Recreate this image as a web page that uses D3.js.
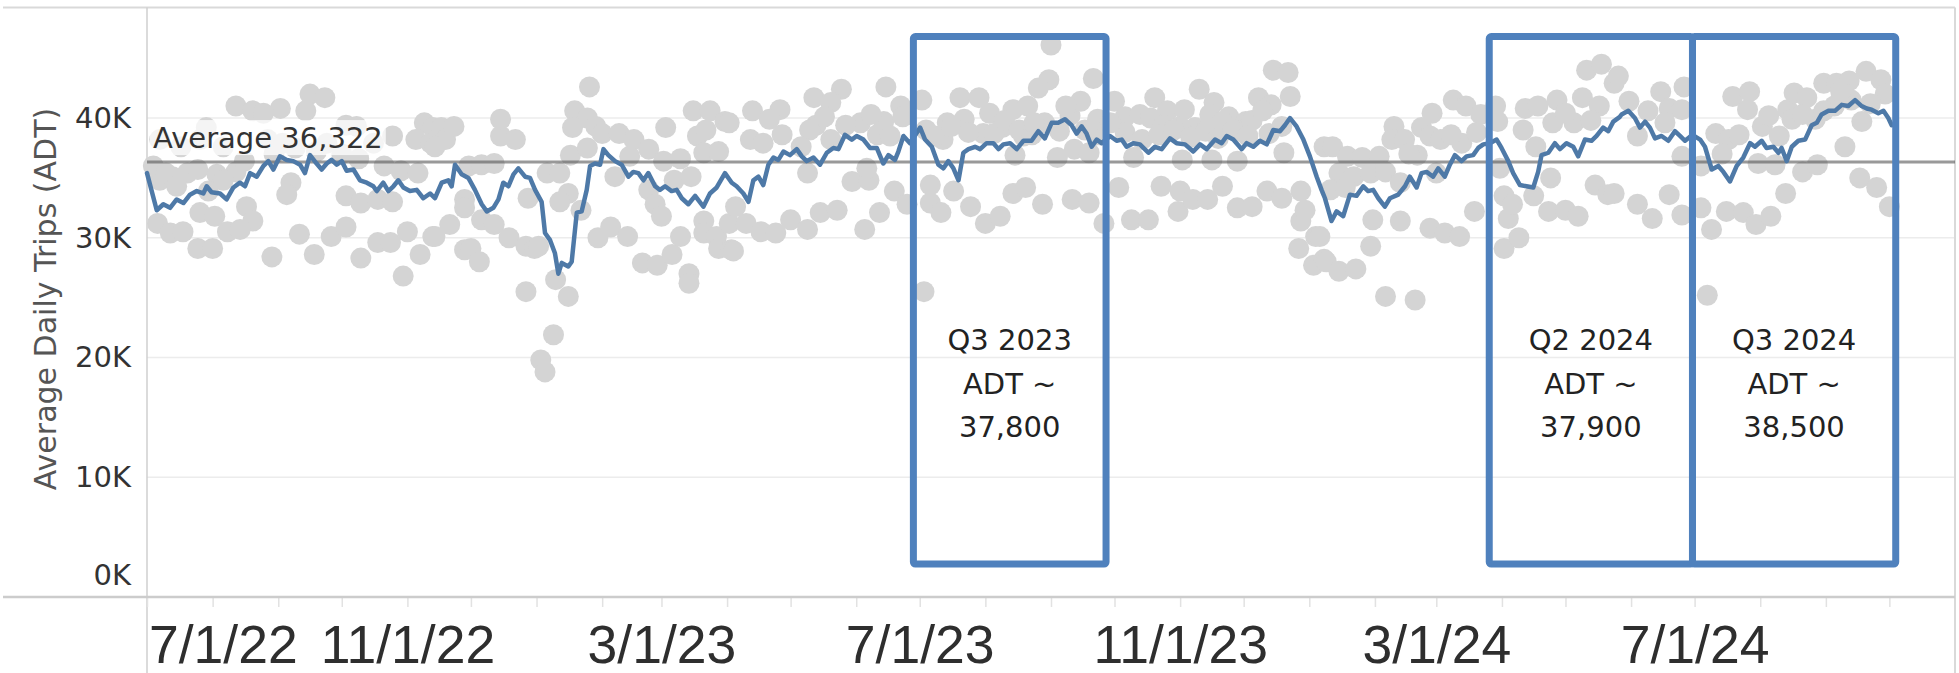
<!DOCTYPE html>
<html>
<head>
<meta charset="utf-8">
<script src="https://cdn.jsdelivr.net/npm/d3@7"></script>
<style>
  html, body { margin: 0; padding: 0; background: #fff; }
  svg { display: block; }
</style>
</head>
<body>
<svg id="chart" width="1959" height="673"></svg>
<script>
var START = "2022-07-01";
var END = "2024-11-01";

// daily points : [days since 7/1/22, ADT in thousands]
var dots2022 = [
  [77,42.0],[84,41.7],[42,41.0],[63,40.8],[75,40.6],[50,40.6],[55,40.4],[94,39.4],[99,39.3],[28,39.2],
  [116,38.5],[6,34.8],[12,35.1],[19,35.4],[3,36.0],[33,35.3],[42,35.5],[68,34.6],[66,33.6],[94,33.5],
  [101,32.9],[109,33.2],[116,33.0],[47,32.6],[25,32.1],[32,31.8],[50,31.4],[5,31.2],[11,30.4],[17,30.5],
  [38,30.5],[44,30.7],[72,30.3],[87,30.1],[94,30.9],[24,29.1],[31,29.1],[59,28.4],[79,28.6],[101,28.3],
  [109,29.6],[115,29.6],[123,30.5],[129,28.6],[135,30.1],[121,26.8],[131,39.6],[135,39.2],[127,38.2],[134,37.9],
  [9,35.4],[24,35.7],[36,34.8],[6,38.2],[16,37.6],[25,38.2],[36,37.6],[57,38.2],[64,37.9],[85,37.9],[107,37.9],
  [139,39.2],[141,38.2],[136,37.6],[145,39.3],[152,36.0],[158,36.1],[164,36.2],[167,38.5],[167,39.9],[174,38.2],
  [180,33.3],[150,33.2],[150,32.5],[143,31.1],[136,30.1],[158,31.5],[164,31.1],[171,30.0],[150,29.0],[153,29.1],
  [157,28.0],[179,29.3],[183,29.1],[179,25.5],
  [14,34.3],[29,33.9],[46,36.4],[60,37.0],[70,37.5],[80,37.2],[92,37.0],[100,36.6],[112,36.0],[120,35.6],[128,35.4]
];
var dots2023a = [
  [209,42.6],[202,40.6],[208,40.0],[201,39.2],[212,39.3],[215,38.7],[223,38.7],[230,38.2],[237,37.4],[245,39.2],
  [244,36.4],[258,40.6],[266,40.6],[273,39.7],[260,38.5],[264,39.0],[263,37.1],[200,36.9],[208,37.5],[189,35.4],
  [195,35.4],[199,33.7],[195,33.0],[221,35.1],[237,34.0],[240,32.8],[243,31.8],[249,34.8],[257,35.1],[185,29.3],
  [205,32.3],[213,30.0],[219,30.9],[227,30.1],[234,27.9],[241,27.7],[248,28.6],[252,30.1],[256,27.0],[256,26.2],
  [263,31.4],[263,30.4],[269,30.1],[270,29.1],[275,31.2],[276,29.0],[193,26.5],[199,25.1],[192,21.9],[186,19.8],
  [188,18.8],[349,42.6],[328,42.4],[315,41.7],[323,41.3],[286,40.6],[299,40.7],[294,39.9],[316,39.4],[320,40.1],
  [337,39.6],[348,39.7],[356,41.0],[357,40.1],[285,38.2],[291,37.9],[313,39.0],[309,37.6],[323,38.2],[345,38.6],
  [351,38.5],[275,39.6],[312,35.4],[333,34.7],[341,34.8],[340,35.8],[353,33.9],[359,32.8],[346,32.1],[318,32.1],
  [326,32.3],[304,31.5],[312,30.7],[283,31.2],[290,30.5],[297,30.4],[277,28.9],[278,32.6],[339,30.7],
  [228,36.8],[252,36.6],[270,37.2],[300,38.6],[330,39.4],[342,40.3]
];
var dots2023b = [
  [366,41.5],[370,34.4],[370,32.9],[375,32.1],[381,33.9],[389,32.6],[396,31.2],[403,31.8],[367,25.5],[384,41.7],
  [393,41.7],[378,39.6],[386,39.9],[398,40.4],[409,40.7],[376,38.2],[395,38.7],[404,39.2],[409,33.7],[415,34.2],
  [414,38.5],[410,36.9],[368,39.0],[372,38.5],[380,39.3],[388,38.8],[400,38.7],[405,39.8],[412,39.0],[418,38.6],
  [424,39.6],[431,38.9],[436,40.2],[443,39.0],[450,38.6],[427,46.1],[426,43.2],[421,42.5],[447,43.3],[441,41.4],
  [416,41.0],[457,41.4],[449,39.9],[419,39.6],[430,36.7],[438,37.4],[445,37.1],[462,40.1],[469,40.3],[476,41.7],
  [482,40.6],[490,40.7],[497,42.4],[495,39.2],[504,41.3],[511,40.1],[519,39.7],[525,41.7],[531,41.1],[532,44.0],
  [539,43.8],[540,41.8],[537,37.1],[466,36.7],[489,36.5],[503,36.5],[515,36.4],[423,32.8],[437,33.2],[445,32.9],
  [452,31.2],[459,34.2],[465,31.5],[473,31.5],[479,34.3],[488,33.9],[487,32.2],[494,33.2],[501,33.2],[508,34.3],
  [515,32.5],[522,32.6],[529,33.9],[536,33.3],[545,33.9],[545,31.4],[547,32.3],[474,40.0],[480,39.4],[488,39.3],
  [502,40.3],[508,39.7],[516,38.9],[522,39.8],[527,40.6],
  [462,38.8],[470,38.2],[478,38.6],[485,39.0],[493,38.4],[500,38.9],[506,38.3],[513,39.0],[520,38.5],[530,38.7],
  [536,39.3],[455,39.6],[434,41.0]
];
var dots2024a = [
  [552,30.1],[544,29.1],[551,27.7],[556,28.2],[556,37.6],[560,37.6],[567,36.8],[574,36.7],[582,36.8],[563,35.4],
  [570,35.1],[578,35.4],[585,35.5],[559,34.0],[589,39.3],[588,38.2],[594,38.2],[602,39.2],[607,40.4],[606,38.5],
  [611,38.2],[617,41.5],[623,41.0],[630,40.3],[621,37.9],[592,34.6],[600,36.9],[609,35.4],[554,30.1],[557,28.0],
  [563,27.2],[571,27.4],[579,31.5],[578,29.3],[592,31.4],[606,30.8],[613,30.4],[620,30.1],[627,32.2],[585,25.1],
  [599,24.8],[637,41.0],[638,39.7],[639,35.8],[641,33.5],[643,31.6],[645,32.8],[641,29.1],[648,30.0],[651,40.8],
  [657,41.0],[666,41.5],[678,41.7],[680,44.0],[687,44.5],[693,42.9],[650,39.0],[656,37.6],[663,35.0],[655,33.5],
  [662,32.2],[670,32.3],[676,31.8],[684,34.4],[690,33.6],[664,39.6],[674,39.6],[686,41.0],
  [566,34.2],[596,37.0],[616,38.6],[628,38.8],[670,40.4],[682,39.8]
];
var dots2024b = [
  [695,43.5],[715,42.2],[726,42.6],[700,41.4],[709,40.6],[719,40.8],[725,40.7],[704,38.5],[717,39.6],[725,36.8],
  [693,33.7],[704,32.8],[711,31.6],[719,33.6],[725,31.9],[734,32.5],[739,30.7],[746,32.2],[754,32.1],[760,31.1],
  [767,31.8],[774,33.7],[737,25.2],[749,41.8],[757,42.2],[756,40.7],[741,38.7],[747,38.2],[763,39.3],[771,38.5],
  [761,36.2],[734,36.0],[769,36.1],[782,35.5],[789,36.1],[775,40.7],[778,42.1],[784,41.7],[792,42.9],[798,42.9],
  [804,43.1],[812,43.9],[819,43.2],[810,39.7],[802,37.6],[809,35.0],[817,34.2],[823,32.6],[788,39.9],[797,41.0],
  [821,42.0],[777,39.9],[805,41.5],[814,41.2],[792,40.6],
  [744,37.0],[752,38.6],[766,40.2],[782,40.3],[800,42.2]
];

// rolling average line : [days since 7/1/22, ADT in thousands]
var trend2022 = [
  [0,35.4],[4.6,32.3],[7.7,32.8],[10.9,32.5],[14,33.2],[17.2,32.9],[20.3,33.6],[23.5,33.9],[26.6,33.7],[28.2,34.3],
  [30.5,33.8],[34.5,33.7],[37.6,33.2],[40.8,34.2],[43.9,34.6],[46.3,34.3],[48.7,35.4],[51.8,35.1],[55,36.0],[57.3,36.4],
  [59.7,35.7],[62.8,36.8],[66,36.5],[69.1,36.4],[72.3,36.1],[74.6,35.4],[77,36.9],[80.1,36.2],[82.5,35.7],[84.9,36.2],
  [87.2,36.5],[89.6,36.1],[92,36.4],[94.3,35.6],[97.5,35.7],[100.6,34.8],[103.8,34.6],[106.9,34.3],[108.5,33.9],[111.6,34.6],
  [114,33.9],[116.4,34.3],[118.7,34.8],[121.1,34.2],[124.2,33.9],[127.4,34.0],[130.5,33.3],[133.7,33.7],[136,33.3],[139.2,34.6],
  [142.3,34.8],[143.9,34.3],[145.5,36.1],[148.6,35.3],[151.8,35.0],[154.9,34.0],[158.1,32.8],[160.5,32.2],[163.6,32.5],[166,33.2],
  [168.3,34.6],[170.7,34.3],[173.1,35.3],[175.4,35.8],[178.6,35.1],[180.9,35.0],[183.3,34.0]
];
var trend2023a = [
  [186.4,33.0],[188,30.4],[190.4,29.8],[192.7,28.7],[194.3,27.0],[195.9,27.9],[199,27.6],[200.6,28.0],[203,32.1],[205.3,32.2],
  [207.7,34.0],[209.3,36.0],[211.6,36.2],[214,36.1],[215.6,37.4],[217.9,36.9],[221.1,36.4],[224.2,36.1],[227.4,35.1],[229.7,35.5],
  [232.1,35.4],[234.5,34.8],[236.8,35.4],[240,34.3],[242.3,34.0],[244.7,34.3],[247.8,33.9],[250.2,34.0],[252.6,33.3],[255.7,32.8],
  [258.9,33.5],[262.8,32.6],[265.9,33.7],[269.1,34.2],[273,35.4],[276.2,34.6],[278.5,34.3],[281.7,33.7],[284.1,33.0],[286.4,34.8],
  [288.8,35.1],[291.1,34.4],[293.5,36.1],[295.9,36.7],[298.2,36.5],[300.6,37.2],[303.7,36.9],[306.9,37.4],[309.3,36.8],[311.6,36.4],
  [314.8,36.7],[317.9,36.1],[321.1,37.1],[324.2,37.5],[326.6,37.4],[329.7,38.6],[332.9,38.2],[335.2,38.5],[338.4,38.2],[341.5,37.5],
  [344.7,37.5],[347.8,36.2],[350.2,36.9],[353.3,36.5],[354.9,37.2],[357.3,38.5],[360.4,37.9]
];
var trend2023b = [
  [365.2,39.2],[367.5,38.2],[370.7,37.6],[373.8,36.1],[376.2,35.8],[378.5,36.4],[380.9,35.8],[383.3,34.8],[385.6,37.1],[388,37.4],
  [391.1,37.6],[393.5,37.4],[396.6,37.9],[399.8,37.9],[402.2,37.4],[404.5,37.8],[407.7,37.9],[410.8,37.4],[414,38.1],[417.8,38.1],
  [421,38.9],[424.1,38.3],[427.3,39.6],[430.4,39.6],[433.6,39.9],[436.7,39.4],[439.1,38.7],[441.5,39.3],[443.8,38.7],[446.2,37.6],
  [448.6,38.2],[450.9,37.9],[454.9,38.5],[458,38.1],[460.4,38.2],[462.7,37.6],[465.9,37.9],[469,37.8],[473,37.1],[476.1,37.6],
  [479.3,37.4],[483.2,38.3],[486.3,37.9],[490.3,37.8],[494.2,37.2],[497.4,37.8],[500.5,37.4],[504.5,38.2],[507.6,37.9],[510,38.5],
  [513.1,38.2],[517.1,37.4],[519.4,37.9],[522.6,37.6],[525.7,38.1],[528.9,37.8],[532,39.0],[535.2,38.9],[537.5,39.4],[539.9,40.0],
  [543,39.3],[546.2,38.2]
];
var trend2024a = [
  [549.3,36.8],[552.5,35.1],[554.8,34.0],[556.4,33.3],[559.5,31.4],[561.9,32.2],[565,31.8],[568.2,33.6],[571.3,33.5],[574.5,34.3],
  [576.8,33.9],[579.2,34.0],[581.6,33.3],[584.7,32.6],[587.1,33.3],[591,33.6],[594.2,34.3],[596.5,35.1],[599.7,34.2],[602,35.4],
  [604.4,35.5],[607.5,35.1],[609.9,35.8],[613,35.1],[615.4,36.1],[617.8,36.9],[620.9,36.4],[623.3,36.8],[626.4,36.9],[628.8,37.5],
  [631.2,37.8],[634.3,37.9],[637.5,38.2],[639.8,37.5],[643,36.4],[645.3,35.4],[648.5,34.4],[651.6,34.3],[654.8,34.2],[657.1,35.5],
  [658.7,36.9],[661.9,37.1],[665,37.9],[667.4,37.4],[670.5,37.9],[673.7,37.6],[676,36.8],[679.2,38.2],[682.3,38.1],[684.7,38.5],
  [687.8,39.2],[690.2,38.9],[692.6,39.7],[695.7,40.1]
];
var trend2024b = [
  [696.5,40.3],[699.7,40.6],[702.8,40.0],[705.2,39.2],[707.6,39.7],[709.9,39.2],[712.3,38.3],[715.4,38.5],[718.6,38.1],[721.7,38.9],
  [724.1,38.5],[726.5,38.1],[730,38.6],[733.6,38.2],[735.9,37.6],[739.1,35.7],[742.2,36.0],[744.6,35.5],[747.7,34.7],[750.9,36.0],
  [754,36.7],[757.2,37.9],[759.5,37.6],[762.7,38.1],[765,37.5],[768.2,37.6],[770.6,37.1],[772.1,37.5],[774.5,36.4],[776.9,37.6],
  [780,38.1],[783.2,38.2],[786.3,39.4],[788.7,39.6],[791,40.3],[794.2,40.6],[797.3,40.6],[800.5,41.1],[803.6,41.0],[806.8,41.5],
  [809.9,41.0],[812.3,40.8],[814.6,40.7],[817.8,40.4],[820.2,40.6],[822.5,40.0],[824.1,39.4]
];

var yTicks = [0, 10000, 20000, 30000, 40000];
var xLabelDates = ["2022-07-01", "2022-11-01", "2023-03-01", "2023-07-01", "2023-11-01", "2024-03-01", "2024-07-01"];
var averageADT = 36322;

// hand drawn call-out boxes (edges as drawn in the picture)
var boxFrom = ["2023-06-28", "2024-03-26", "2024-06-30"];
var boxTo = ["2023-09-27", "2024-06-30", "2024-10-04"];
var boxQuarter = ["Q3 2023", "Q2 2024", "Q3 2024"];
var boxADT = ["37,800", "37,900", "38,500"];
var boxTop = 46800, boxBottom = 2750;

var parse = d3.utcParse("%Y-%m-%d");
var t0 = parse(START);
function toDate(day) { return new Date(t0.getTime() + day * 864e5); }

var dots = [].concat(dots2022, dots2023a, dots2023b, dots2024a, dots2024b);
var trend = [].concat(trend2022, trend2023a, trend2023b, trend2024a, trend2024b);

var W = 1959, H = 673;
var plotL = 147, plotR = 1955, plotT = 7.5, plotB = 597;

var svg = d3.select("#chart");

var x = d3.scaleUtc().domain([t0, parse(END)]).range([plotL, plotR]);
var y = d3.scaleLinear().domain([0, 49230]).range([plotB, plotT]);

// gridlines
svg.append("g")
  .selectAll("line")
  .data(yTicks.filter(function(d) { return d > 0; }))
  .enter().append("line")
  .attr("x1", plotL).attr("x2", plotR)
  .attr("y1", function(d) { return y(d); }).attr("y2", function(d) { return y(d); })
  .attr("stroke", "#ececec").attr("stroke-width", 1.5);

// frame
svg.append("line").attr("x1", 3).attr("x2", plotR).attr("y1", plotT).attr("y2", plotT)
  .attr("stroke", "#d9d9d9").attr("stroke-width", 2);
svg.append("line").attr("x1", plotR).attr("x2", plotR).attr("y1", plotT).attr("y2", H)
  .attr("stroke", "#d9d9d9").attr("stroke-width", 2);
svg.append("line").attr("x1", plotL).attr("x2", plotL).attr("y1", plotT).attr("y2", H)
  .attr("stroke", "#cfcfcf").attr("stroke-width", 1.5);

// x axis : month ticks, labels every 4 months
var labelSet = xLabelDates.map(function(s) { return +parse(s); });
var months = d3.utcMonth.range(t0, parse(END));
var fmt = d3.utcFormat("%-m/%-d/%y");
var xAxis = d3.axisBottom(x)
  .tickValues(months)
  .tickSize(10)
  .tickFormat(function(d) { return labelSet.indexOf(+d) >= 0 ? fmt(d) : ""; });

var gx = svg.append("g").attr("transform", "translate(0," + plotB + ")").call(xAxis);
gx.select(".domain").remove();
gx.selectAll(".tick line").attr("stroke", "#e2e2e2").attr("stroke-width", 1.5);
gx.selectAll(".tick text")
  .attr("y", 66).attr("dy", 0)
  .attr("fill", "#2e2e2e")
  .style("font-family", "'Liberation Sans', Arial, sans-serif")
  .style("font-size", "53.5px");
// keep first label inside the axis
gx.selectAll(".tick text").each(function() {
  var bb = this.getBBox();
  if (this.textContent && bb.width > 0) {
    var tx = +this.parentNode.getAttribute("transform").match(/translate\(([-\d.]+)/)[1];
    if (tx + bb.x < plotL + 2) d3.select(this).attr("x", plotL + 2 - tx - bb.x);
  }
});

svg.append("line").attr("x1", 3).attr("x2", plotR).attr("y1", plotB).attr("y2", plotB)
  .attr("stroke", "#cccccc").attr("stroke-width", 2.5);

// y axis labels
var yAxis = d3.axisLeft(y)
  .tickValues(yTicks)
  .tickSize(0)
  .tickPadding(16)
  .tickFormat(function(d) { return (d / 1000) + "K"; });
var gy = svg.append("g").attr("transform", "translate(" + plotL + ",0)").call(yAxis);
gy.select(".domain").remove();
gy.selectAll(".tick text")
  .attr("fill", "#333")
  .style("font-family", "'DejaVu Sans', sans-serif")
  .style("font-size", "29px")
  .attr("y", function(d) { return d === 0 ? -22 : 0; });

svg.append("text")
  .attr("transform", "translate(56," + 299 + ") rotate(-90)")
  .attr("text-anchor", "middle")
  .attr("fill", "#555")
  .style("font-family", "'DejaVu Sans', sans-serif")
  .style("font-size", "30px")
  .text("Average Daily Trips (ADT)");

// daily dots
svg.append("g")
  .selectAll("circle")
  .data(dots)
  .enter().append("circle")
  .attr("cx", function(d) { return x(toDate(d[0])); })
  .attr("cy", function(d) { return y(d[1] * 1000); })
  .attr("r", 10.5)
  .attr("fill", "#d4d4d4");

// average reference label
var avgLabel = svg.append("g");
var avgBg = avgLabel.append("rect").attr("fill", "#fff").attr("fill-opacity", 0.75);
var avgText = avgLabel.append("text")
  .attr("x", 153).attr("y", y(averageADT) - 14)
  .attr("fill", "#333")
  .style("font-family", "'DejaVu Sans', sans-serif")
  .style("font-size", "29px")
  .text("Average " + d3.format(",")(averageADT));
var tb = avgText.node().getBBox();
avgBg.attr("x", tb.x - 3).attr("y", tb.y - 1).attr("width", tb.width + 6).attr("height", tb.height + 1);

// average line
svg.append("line")
  .attr("x1", plotL).attr("x2", plotR)
  .attr("y1", y(averageADT)).attr("y2", y(averageADT))
  .attr("stroke", "#555").attr("stroke-opacity", 0.6).attr("stroke-width", 3);

// trend line
var line = d3.line()
  .x(function(d) { return x(toDate(d[0])); })
  .y(function(d) { return y(d[1] * 1000); });

svg.append("path")
  .datum(trend)
  .attr("d", line)
  .attr("fill", "none")
  .attr("stroke", "#4e79a7")
  .attr("stroke-width", 4.5)
  .attr("stroke-linejoin", "round")
  .attr("stroke-linecap", "round");

// call-out boxes
var boxes = boxFrom.map(function(f, i) {
  return { from: parse(f), to: parse(boxTo[i]), lines: [boxQuarter[i], "ADT ~", boxADT[i]] };
});

var gb = svg.append("g").selectAll("g").data(boxes).enter().append("g");
gb.append("rect")
  .attr("x", function(d) { return x(d.from); })
  .attr("width", function(d) { return x(d.to) - x(d.from); })
  .attr("y", y(boxTop))
  .attr("height", y(boxBottom) - y(boxTop))
  .attr("rx", 2)
  .attr("fill", "none")
  .attr("stroke", "#4f81bd")
  .attr("stroke-width", 7);

gb.each(function(d) {
  var cx = (x(d.from) + x(d.to)) / 2;
  d3.select(this).selectAll("text")
    .data(d.lines)
    .enter().append("text")
    .attr("x", cx)
    .attr("y", function(t, i) { return 350 + i * 43.5; })
    .attr("text-anchor", "middle")
    .attr("fill", "#222")
    .style("font-family", "'DejaVu Sans', sans-serif")
    .style("font-size", "29px")
    .text(function(t) { return t; });
});
</script>
</body>
</html>
